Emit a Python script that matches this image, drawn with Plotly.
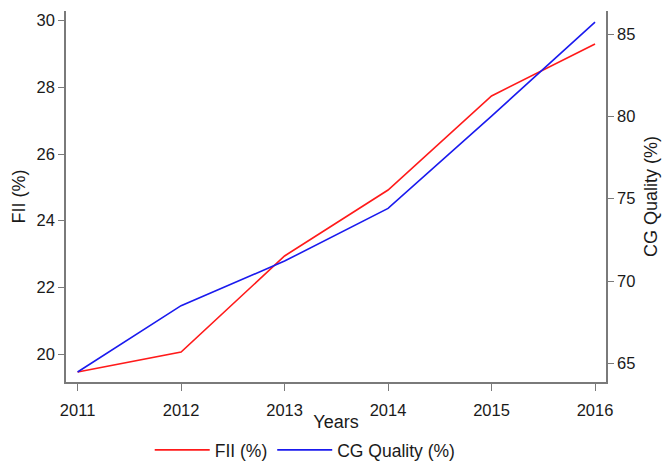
import plotly.graph_objects as go

years = [2011, 2012, 2013, 2014, 2015, 2016]
fii = [19.46, 20.06, 22.94, 24.92, 27.74, 29.30]
cg_quality = [64.47, 68.50, 71.21, 74.41, 80.02, 85.72]

left_ticks = [20, 22, 24, 26, 28, 30]
right_ticks = [65, 70, 75, 80, 85]

font = "Liberation Sans, Arial, sans-serif"
axis_col = "#7a7a7a"
text_col = "#1a1a1a"

fig = go.Figure()
fig.add_trace(go.Scatter(x=years, y=fii, name="FII (%)", mode="lines",
                         line=dict(color="#ff1a1a", width=1.6)))
fig.add_trace(go.Scatter(x=years, y=cg_quality, name="CG Quality (%)", mode="lines",
                         line=dict(color="#1a1aee", width=1.6), yaxis="y2"))

fig.update_layout(
    width=664, height=468,
    margin=dict(l=66, r=58, t=11, b=86, autoexpand=False),
    paper_bgcolor="white", plot_bgcolor="white",
    font=dict(family=font, size=16.5, color=text_col),
    showlegend=True,
    legend=dict(orientation="h", x=0.443, xanchor="center",
                yref="container", y=-0.012, yanchor="bottom",
                font=dict(size=17.5), itemwidth=55, tracegroupgap=0),
    xaxis=dict(range=[2010.888, 2016.106], tickvals=years, ticktext=[str(y) for y in years],
               showline=True, linecolor=axis_col, linewidth=1.5, ticks="outside",
               ticklen=7, tickcolor=axis_col, showgrid=False, zeroline=False,
               ticklabelstandoff=5,
               title=dict(text="Years", font=dict(size=18), standoff=0)),
    yaxis=dict(range=[19.16, 30.29], tickvals=left_ticks,
               showline=True, linecolor=axis_col, linewidth=1.5, ticks="outside",
               ticklen=6, tickcolor=axis_col, showgrid=False, zeroline=False,
               title=dict(text="FII (%)", font=dict(size=18), standoff=6)),
    yaxis2=dict(range=[63.865, 86.40], tickvals=right_ticks, overlaying="y", side="right",
                showline=True, linecolor=axis_col, linewidth=1.5, ticks="outside",
                ticklen=6, tickcolor=axis_col, showgrid=False, zeroline=False,
                title=dict(text="CG Quality (%)", font=dict(size=18), standoff=10)),
)

fig.write_html("out.html")
